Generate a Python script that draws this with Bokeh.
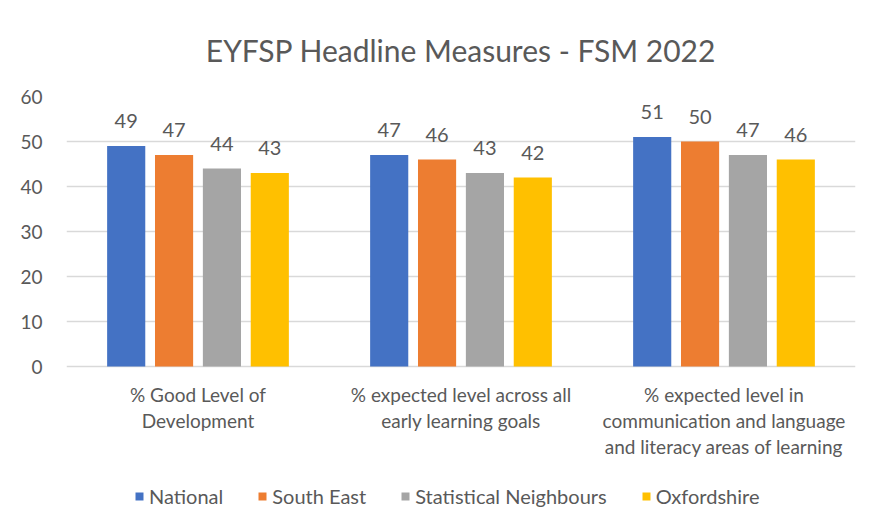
from bokeh.plotting import figure
from bokeh.models import ColumnDataSource, FactorRange, Legend, LegendItem, Range1d
from bokeh.transform import dodge
from bokeh.core.properties import value
from bokeh.embed import file_html
from bokeh.resources import INLINE

categories = ["% Good Level of\nDevelopment",
              "% expected level across all\nearly learning goals",
              "% expected level in\ncommunication and language\nand literacy areas of learning"]
series_names = ["National", "South East", "Statistical Neighbours", "Oxfordshire"]
national = [49, 47, 51]
south_east = [47, 46, 50]
stat_neighbours = [44, 43, 47]
oxfordshire = [43, 42, 46]
colors = ["#4472C4", "#ED7D31", "#A5A5A5", "#FFC000"]
y_ticks = [0, 10, 20, 30, 40, 50, 60]

FONT = "Lato"
GREY = "#595959"

# frame extends below the value axis to host category labels and legend
p = figure(x_range=FactorRange(*categories), y_range=Range1d(-35.3, 60),
           frame_width=789, frame_height=429, output_backend="svg", toolbar_location=None,
           min_border_left=66, min_border_right=13, min_border_top=96, min_border_bottom=0)
p.outline_line_color = None

p.title.text = "EYFSP Headline Measures - FSM 2022"
p.title.align = "center"
p.title.text_font = FONT
p.title.text_font_size = "30px"
p.title.text_font_style = "normal"
p.title.text_color = GREY
p.title.standoff = 58

all_series = [national, south_east, stat_neighbours, oxfordshire]
offsets = [-0.273, -0.091, 0.091, 0.273]
items = []
for name, vals, col, off in zip(series_names, all_series, colors, offsets):
    src = ColumnDataSource(dict(cat=categories, val=vals, lbl=[str(v) for v in vals]))
    r = p.vbar(x=dodge("cat", off, range=p.x_range), top="val", width=0.145,
               source=src, fill_color=col, line_color=None)
    p.text(x=dodge("cat", off, range=p.x_range), y="val", text="lbl", source=src,
           text_align="center", text_baseline="middle", y_offset=-25,
           text_font=value(FONT), text_font_size="20px", text_color=GREY)
    items.append(LegendItem(label=name, renderers=[r]))

# category labels under the zero line
cat_src = ColumnDataSource(dict(cat=categories, y=[0] * len(categories)))
p.text(x="cat", y="y", text="cat", source=cat_src, text_align="center",
       text_baseline="top", y_offset=16, text_line_height=1.15,
       text_font=value(FONT), text_font_size="19px", text_color=GREY)

legend = Legend(items=items, orientation="horizontal", location=(68, 17),
                label_text_font=FONT, label_text_font_size="20px", label_text_color=GREY,
                glyph_width=10, glyph_height=10, spacing=34, label_standoff=5,
                border_line_color=None, background_fill_alpha=0, margin=0, padding=0)
p.add_layout(legend)

p.xaxis.visible = False
p.xgrid.grid_line_color = None
p.ygrid.grid_line_color = "#d9d9d9"
p.ygrid.grid_line_width = 1.5
p.ygrid.ticker = y_ticks
p.yaxis.ticker = y_ticks
p.yaxis.axis_line_color = None
p.yaxis.major_tick_line_color = None
p.yaxis.minor_tick_line_color = None
p.yaxis.major_label_text_font = FONT
p.yaxis.major_label_text_font_size = "19px"
p.yaxis.major_label_text_color = GREY
p.yaxis.major_label_standoff = 18

open("out.html", "w").write(file_html(p, INLINE))
